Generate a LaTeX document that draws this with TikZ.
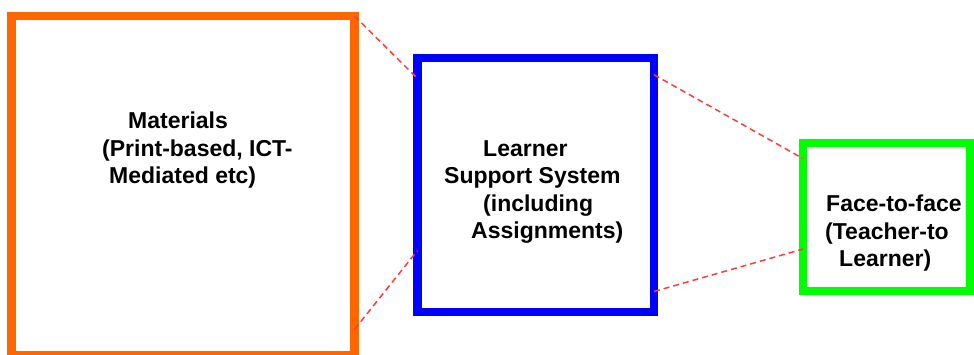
\documentclass[tikz,border=0pt]{standalone}
\usepackage{fontspec}
\setmainfont{Liberation Sans}
\usepackage{tikz}
\definecolor{matorange}{RGB}{255,102,0}
\definecolor{lssblue}{RGB}{0,0,255}
\definecolor{ftfgreen}{RGB}{0,255,0}
\definecolor{linkred}{RGB}{255,60,60}

\begin{document}
\begin{tikzpicture}[x=1pt,y=-1pt,
  box/.style={draw,line width=8.5pt,outer sep=0pt,inner sep=0pt},
  txt/.style={anchor=north west,inner sep=0pt,align=left,font=\bfseries\fontsize{23}{27.5}\selectfont},
  link/.style={draw=linkred,line width=1.5pt,dash pattern=on 6pt off 4pt}]
  \useasboundingbox (0,0) rectangle (974,355);

  \node[box,draw=matorange,minimum width=343pt,minimum height=339pt] (materials) at (183,185.5) {};
  \node[box,draw=lssblue,minimum width=236.5pt,minimum height=254pt] (support) at (535.75,185) {};
  \node[box,draw=ftfgreen,minimum width=167pt,minimum height=148pt] (face) at (886.5,217) {};

  \node[txt] (materialstext) at (102,112) {\hspace*{26pt}Materials\\(Print-based, ICT-\\\hspace*{7pt}Mediated etc)};
  \node[txt] (supporttext) at (444,140) {\hspace*{39pt}Learner\\Support System\\\hspace*{39pt}(including\\\hspace*{27pt}Assignments)};
  \node[txt] (facetext) at (825,195) {\hspace*{1pt}Face-to-face\\(Teacher-to\\\hspace*{14pt}Learner)};

  \draw[link](materials.north east)--(support.138);
  \draw[link](materials.-40.5)--(support.209);
  \draw[link](support.43)--(face.145);
  \draw[link](support.-42)--(face.201);
\end{tikzpicture}
\end{document}
